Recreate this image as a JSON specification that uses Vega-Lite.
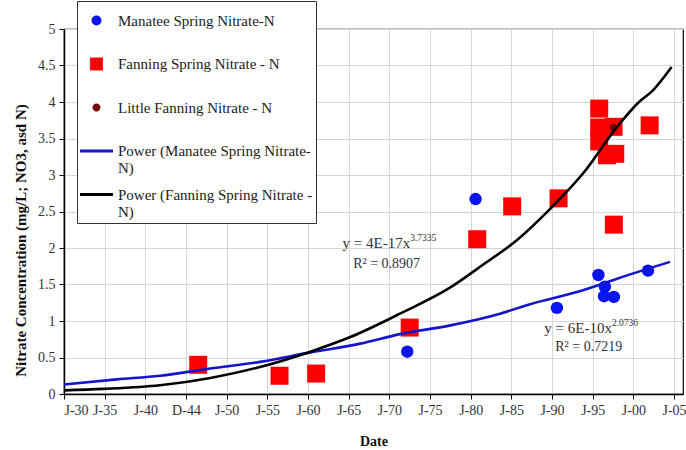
{
  "$schema": "https://vega.github.io/schema/vega-lite/v6.json",
  "width": 619,
  "height": 365,
  "autosize": {"type": "none"},
  "padding": {"left": 64, "top": 29, "right": 3, "bottom": 56},
  "background": "white",
  "config": {
    "font": "Liberation Serif",
    "view": {"stroke": "#000", "strokeWidth": 1.2},
    "axis": {
      "labelFont": "Liberation Serif",
      "labelFontSize": 14,
      "labelColor": "#333",
      "titleFont": "Liberation Serif",
      "titleFontSize": 14,
      "titleFontWeight": "bold",
      "titleColor": "#111",
      "domainColor": "#000",
      "domainWidth": 1.5,
      "tickColor": "#000",
      "tickSize": 5,
      "gridColor": "#d6d6d6",
      "gridWidth": 1
    },
    "legend": {
      "orient": "none",
      "legendX": 13,
      "legendY": -28,
      "fillColor": "white",
      "strokeColor": "#333",
      "padding": 3,
      "labelFont": "Liberation Serif",
      "labelFontSize": 15,
      "labelColor": "#222",
      "labelLimit": 400,
      "labelOffset": 5,
      "labelBaseline": "middle",
      "gridAlign": "all",
      "rowPadding": 1.5,
      "symbolSize": 1089,
      "symbolOpacity": 1,
      "symbolStrokeWidth": 0
    }
  },
  "datasets": {
    "series": [
      {"series": "Manatee Spring Nitrate-N", "year": 1972.2, "value": 0.58},
      {"series": "Manatee Spring Nitrate-N", "year": 1980.6, "value": 2.67},
      {"series": "Manatee Spring Nitrate-N", "year": 1990.6, "value": 1.18},
      {"series": "Manatee Spring Nitrate-N", "year": 1995.7, "value": 1.63},
      {"series": "Manatee Spring Nitrate-N", "year": 1996.5, "value": 1.47},
      {"series": "Manatee Spring Nitrate-N", "year": 1996.4, "value": 1.34},
      {"series": "Manatee Spring Nitrate-N", "year": 1997.6, "value": 1.33},
      {"series": "Manatee Spring Nitrate-N", "year": 2001.8, "value": 1.69},
      {"series": "Fanning Spring Nitrate - N", "year": 1946.5, "value": 0.40},
      {"series": "Fanning Spring Nitrate - N", "year": 1956.5, "value": 0.25},
      {"series": "Fanning Spring Nitrate - N", "year": 1961.0, "value": 0.28},
      {"series": "Fanning Spring Nitrate - N", "year": 1972.5, "value": 0.91},
      {"series": "Fanning Spring Nitrate - N", "year": 1980.8, "value": 2.12},
      {"series": "Fanning Spring Nitrate - N", "year": 1985.1, "value": 2.57},
      {"series": "Fanning Spring Nitrate - N", "year": 1990.8, "value": 2.68},
      {"series": "Fanning Spring Nitrate - N", "year": 1995.8, "value": 3.91},
      {"series": "Fanning Spring Nitrate - N", "year": 1995.8, "value": 3.65},
      {"series": "Fanning Spring Nitrate - N", "year": 1995.8, "value": 3.46},
      {"series": "Fanning Spring Nitrate - N", "year": 1996.75, "value": 3.27},
      {"series": "Fanning Spring Nitrate - N", "year": 1997.77, "value": 3.29},
      {"series": "Fanning Spring Nitrate - N", "year": 1997.56, "value": 3.66},
      {"series": "Fanning Spring Nitrate - N", "year": 1997.6, "value": 2.32},
      {"series": "Fanning Spring Nitrate - N", "year": 2002.0, "value": 3.68},
      {"series": "Little Fanning Nitrate - N", "year": 1997.56, "value": 3.65},
      {"series": "Power (Manatee Spring Nitrate-N)", "year": 1930.0, "value": 0.13},
      {"series": "Power (Manatee Spring Nitrate-N)", "year": 1936.5, "value": 0.20},
      {"series": "Power (Manatee Spring Nitrate-N)", "year": 1941.8, "value": 0.25},
      {"series": "Power (Manatee Spring Nitrate-N)", "year": 1948.0, "value": 0.35},
      {"series": "Power (Manatee Spring Nitrate-N)", "year": 1954.1, "value": 0.44},
      {"series": "Power (Manatee Spring Nitrate-N)", "year": 1960.3, "value": 0.57},
      {"series": "Power (Manatee Spring Nitrate-N)", "year": 1966.4, "value": 0.69},
      {"series": "Power (Manatee Spring Nitrate-N)", "year": 1971.3, "value": 0.82},
      {"series": "Power (Manatee Spring Nitrate-N)", "year": 1977.5, "value": 0.94},
      {"series": "Power (Manatee Spring Nitrate-N)", "year": 1983.6, "value": 1.10},
      {"series": "Power (Manatee Spring Nitrate-N)", "year": 1987.3, "value": 1.23},
      {"series": "Power (Manatee Spring Nitrate-N)", "year": 1993.8, "value": 1.42},
      {"series": "Power (Manatee Spring Nitrate-N)", "year": 1998.0, "value": 1.58},
      {"series": "Power (Manatee Spring Nitrate-N)", "year": 2004.5, "value": 1.81},
      {"series": "Power (Fanning Spring Nitrate - N)", "year": 1930.0, "value": 0.05},
      {"series": "Power (Fanning Spring Nitrate - N)", "year": 1934.8, "value": 0.07},
      {"series": "Power (Fanning Spring Nitrate - N)", "year": 1941.8, "value": 0.12},
      {"series": "Power (Fanning Spring Nitrate - N)", "year": 1948.0, "value": 0.22},
      {"series": "Power (Fanning Spring Nitrate - N)", "year": 1954.1, "value": 0.37},
      {"series": "Power (Fanning Spring Nitrate - N)", "year": 1960.3, "value": 0.58},
      {"series": "Power (Fanning Spring Nitrate - N)", "year": 1965.2, "value": 0.78},
      {"series": "Power (Fanning Spring Nitrate - N)", "year": 1971.3, "value": 1.10},
      {"series": "Power (Fanning Spring Nitrate - N)", "year": 1977.5, "value": 1.46},
      {"series": "Power (Fanning Spring Nitrate - N)", "year": 1981.5, "value": 1.77},
      {"series": "Power (Fanning Spring Nitrate - N)", "year": 1985.7, "value": 2.11},
      {"series": "Power (Fanning Spring Nitrate - N)", "year": 1989.8, "value": 2.54},
      {"series": "Power (Fanning Spring Nitrate - N)", "year": 1993.8, "value": 3.02},
      {"series": "Power (Fanning Spring Nitrate - N)", "year": 1998.0, "value": 3.66},
      {"series": "Power (Fanning Spring Nitrate - N)", "year": 2000.5, "value": 3.98},
      {"series": "Power (Fanning Spring Nitrate - N)", "year": 2002.4, "value": 4.16},
      {"series": "Power (Fanning Spring Nitrate - N)", "year": 2004.7, "value": 4.48}
    ],
    "eqs": [
      {"year": 1972.56, "value": 2.07, "text": "y = 4E-17x"},
      {"year": 1997.36, "value": 0.90, "text": "y = 6E-10x"}
    ],
    "r2": [
      {"year": 1965.55, "value": 1.78, "text": "R² = 0.8907"},
      {"year": 1990.39, "value": 0.65, "text": "R² = 0.7219"}
    ],
    "sups": [
      {"year": 1972.56, "value": 2.07, "text": "3.7335"},
      {"year": 1997.36, "value": 0.90, "text": "2.0736"}
    ]
  },
  "encoding": {
    "x": {
      "field": "year",
      "type": "quantitative",
      "scale": {"domain": [1930, 2006.1], "nice": false, "zero": false},
      "axis": {
        "title": "Date",
        "values": [1930, 1935, 1940, 1945, 1950, 1955, 1960, 1965, 1970, 1975, 1980, 1985, 1990, 1995, 2000, 2005],
        "labelExpr": "datum.value == 1945 ? 'D-44' : 'J-' + (datum.value % 100 < 10 ? '0' : '') + (datum.value % 100)",
        "labelPadding": 4,
        "titlePadding": 17,
        "grid": true
      }
    },
    "y": {
      "field": "value",
      "type": "quantitative",
      "scale": {"domain": [0, 5], "nice": false},
      "axis": {
        "title": "Nitrate Concentration (mg/L; NO3, asd N)",
        "titleFontSize": 15,
        "values": [0, 0.5, 1, 1.5, 2, 2.5, 3, 3.5, 4, 4.5, 5],
        "format": "~g",
        "labelPadding": 4,
        "titlePadding": 9,
        "titleY": 211,
        "grid": true
      }
    }
  },
  "layer": [
    {
      "data": {"name": "series"},
      "mark": {"type": "point", "filled": true, "opacity": 0},
      "encoding": {
        "shape": {
          "field": "series",
          "type": "nominal",
          "scale": {
            "domain": ["Manatee Spring Nitrate-N", "Fanning Spring Nitrate - N", "Little Fanning Nitrate - N", "Power (Manatee Spring Nitrate-N)", "Power (Fanning Spring Nitrate - N)"],
            "range": [
              "M0.3,0A0.3,0.3,0,1,1,-0.3,0A0.3,0.3,0,1,1,0.3,0Z",
              "M-0.39,-0.39H0.39V0.39H-0.39Z",
              "M0.24,0A0.24,0.24,0,1,1,-0.24,0A0.24,0.24,0,1,1,0.24,0Z",
              "M-1,-0.09H1V0.09H-1Z",
              "M-1,-0.09H1V0.09H-1Z"
            ]
          },
          "legend": {
            "title": null,
            "labelExpr": "datum.label == 'Power (Manatee Spring Nitrate-N)' ? ['Power (Manatee Spring Nitrate-', 'N)'] : datum.label == 'Power (Fanning Spring Nitrate - N)' ? ['Power (Fanning Spring Nitrate -', 'N)'] : datum.label"
          }
        },
        "color": {
          "field": "series",
          "type": "nominal",
          "scale": {
            "domain": ["Manatee Spring Nitrate-N", "Fanning Spring Nitrate - N", "Little Fanning Nitrate - N", "Power (Manatee Spring Nitrate-N)", "Power (Fanning Spring Nitrate - N)"],
            "range": ["#0a14f0", "#ff0000", "#7a0000", "#1414cc", "#000000"]
          },
          "legend": {
            "title": null,
            "labelExpr": "datum.label == 'Power (Manatee Spring Nitrate-N)' ? ['Power (Manatee Spring Nitrate-', 'N)'] : datum.label == 'Power (Fanning Spring Nitrate - N)' ? ['Power (Fanning Spring Nitrate -', 'N)'] : datum.label"
          }
        }
      }
    },
    {
      "data": {"name": "series"},
      "transform": [{"filter": "datum.series == 'Manatee Spring Nitrate-N'"}],
      "mark": {"type": "point", "shape": "circle", "filled": true, "size": 155, "opacity": 1},
      "encoding": {"color": {"field": "series", "type": "nominal"}}
    },
    {
      "data": {"name": "series"},
      "transform": [{"filter": "datum.series == 'Fanning Spring Nitrate - N'"}],
      "mark": {"type": "point", "shape": "square", "filled": true, "size": 324, "opacity": 1},
      "encoding": {"color": {"field": "series", "type": "nominal"}}
    },
    {
      "data": {"name": "series"},
      "transform": [{"filter": "datum.series == 'Little Fanning Nitrate - N'"}],
      "mark": {"type": "point", "shape": "circle", "filled": true, "size": 60, "opacity": 1},
      "encoding": {"color": {"field": "series", "type": "nominal"}}
    },
    {
      "data": {"name": "series"},
      "transform": [{"filter": "indexof(datum.series, 'Power') == 0"}],
      "mark": {"type": "line", "strokeWidth": 2.6, "interpolate": "monotone"},
      "encoding": {"color": {"field": "series", "type": "nominal"}, "order": {"field": "year"}}
    },
    {
      "data": {"name": "eqs"},
      "mark": {"type": "text", "align": "right", "baseline": "middle", "font": "Liberation Serif", "fontSize": 15, "color": "#333"},
      "encoding": {"text": {"field": "text"}}
    },
    {
      "data": {"name": "r2"},
      "mark": {"type": "text", "align": "left", "baseline": "middle", "font": "Liberation Serif", "fontSize": 14, "color": "#333"},
      "encoding": {"text": {"field": "text"}}
    },
    {
      "data": {"name": "sups"},
      "mark": {"type": "text", "align": "left", "baseline": "middle", "font": "Liberation Serif", "fontSize": 9.5, "dy": -5, "color": "#333"},
      "encoding": {"text": {"field": "text"}}
    }
  ]
}
